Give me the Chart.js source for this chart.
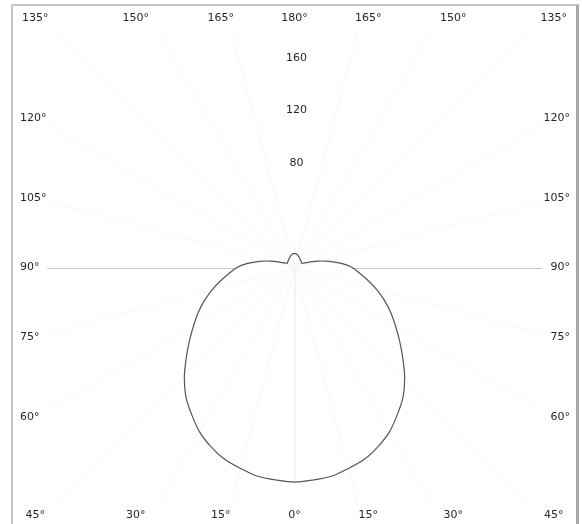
<!DOCTYPE html>
<html>
<head>
<meta charset="utf-8">
<script src="https://cdn.jsdelivr.net/npm/chart.js@4.4.1/dist/chart.umd.min.js"></script>
<style>
  html, body { margin: 0; padding: 0; background: #fff; overflow: hidden; }
  #wrap { position: relative; width: 582px; height: 524px; }
  #frame { position: absolute; left: 11px; top: 4px; width: 563px; height: 600px;
           border: 2px solid #c6c6c6; border-right: 3px solid #a9a9a9; }
  canvas { position: absolute; left: 0; top: 0; }
</style>
</head>
<body>
<div id="wrap"><div id="frame"></div><canvas id="polar"></canvas></div>
<script>
// Luminous intensity (cd) per gamma angle, symmetric plane
const angles = [0, 5, 10, 15, 20, 25, 30, 35, 40, 45, 50, 55, 60, 65, 70, 75, 80, 85, 90,
                95, 100, 105, 110, 115, 120, 125, 130, 135, 140, 145, 150, 155, 160, 165, 170, 175, 180];
const intensity = [164, 163, 162, 159, 156, 151, 145, 137, 129, 119, 108, 98, 89, 81, 73, 65, 57, 50, 44,
                   36, 27, 19, 12, 8, 6.5, 6.5, 6.8, 7, 7.2, 7.5, 8, 8.5, 9.2, 9.8, 10.3, 10.6, 10.7];

// Ring values and frame angle labels
const ringValues = [80, 120, 160];
const topAngles = [-135, -150, -165, 180, 165, 150, 135];
const sideAngles = [120, 105, 90, 75, 60];
const bottomAngles = [-45, -30, -15, 0, 15, 30, 45];

const sideReach = 198;   // cd, where side labels sit
const vertReach = 210;   // cd, where top/bottom labels sit

function toXY(deg, v) {
    const r = deg * Math.PI / 180;
    return { x: v * Math.sin(r), y: -v * Math.cos(r) };
}

const curve = [];
for (let i = angles.length - 1; i >= 0; i--) curve.push(toXY(-angles[i], intensity[i]));
for (let i = 1; i < angles.length; i++) curve.push(toXY(angles[i], intensity[i]));

const labelFont = '11px "DejaVu Sans", Verdana, sans-serif';

const polarFrame = {
    id: 'polarFrame',
    beforeDatasetsDraw(chart) {
        const { ctx, chartArea, scales: { x, y } } = chart;
        const cx = x.getPixelForValue(0), cy = y.getPixelForValue(0);
        ctx.save();
        ctx.beginPath();
        ctx.rect(chartArea.left, chartArea.top, chartArea.right - chartArea.left, chartArea.bottom - chartArea.top);
        ctx.clip();
        // very faint radial lines every 15 degrees
        ctx.strokeStyle = '#f7f7f7';
        ctx.lineWidth = 1;
        for (let a = 0; a < 360; a += 15) {
            if (a % 90 === 0) continue;
            const p = toXY(a, 400);
            ctx.beginPath();
            ctx.moveTo(cx, cy);
            ctx.lineTo(x.getPixelForValue(p.x), y.getPixelForValue(p.y));
            ctx.stroke();
        }
        // 0 deg line inside the curve
        ctx.strokeStyle = '#e8e8e8';
        ctx.beginPath();
        ctx.moveTo(cx + 0.5, cy);
        ctx.lineTo(cx + 0.5, y.getPixelForValue(-intensity[0]));
        ctx.stroke();
        // 90 deg line outside the curve
        const i90 = intensity[angles.indexOf(90)];
        ctx.strokeStyle = '#c9c9c9';
        ctx.beginPath();
        ctx.moveTo(chartArea.left, Math.round(cy) + 0.5);
        ctx.lineTo(x.getPixelForValue(-i90), Math.round(cy) + 0.5);
        ctx.moveTo(x.getPixelForValue(i90), Math.round(cy) + 0.5);
        ctx.lineTo(chartArea.right, Math.round(cy) + 0.5);
        ctx.stroke();
        ctx.restore();
    },
    afterDraw(chart) {
        const { ctx, chartArea, scales: { x, y } } = chart;
        ctx.save();
        ctx.font = labelFont;
        ctx.fillStyle = '#262626';
        ctx.textBaseline = 'middle';
        const clampX = v => Math.max(-sideReach, Math.min(sideReach, v));
        // top row
        ctx.textAlign = 'center';
        topAngles.forEach(a => {
            const off = (180 - Math.abs(a)) * Math.PI / 180;
            const xv = clampX(Math.sign(a) * vertReach * Math.tan(off));
            ctx.fillText(Math.abs(a) + '°', x.getPixelForValue(a === 180 ? 0 : xv), chartArea.top - 10);
        });
        // bottom row
        bottomAngles.forEach(a => {
            const off = Math.abs(a) * Math.PI / 180;
            const xv = clampX(Math.sign(a) * vertReach * Math.tan(off));
            ctx.fillText(Math.abs(a) + '°', x.getPixelForValue(xv), chartArea.bottom + 8);
        });
        // side columns
        sideAngles.forEach(a => {
            const yv = sideReach * Math.tan((a - 90) * Math.PI / 180);
            const py = y.getPixelForValue(yv);
            ctx.textAlign = 'left';
            ctx.fillText(a + '°', chartArea.left - 27, py);
            ctx.textAlign = 'right';
            ctx.fillText(a + '°', chartArea.right + 28, py);
        });
        // ring values on the vertical axis
        ctx.textAlign = 'center';
        ringValues.forEach(v => {
            ctx.fillText(String(v), x.getPixelForValue(0) + 2, y.getPixelForValue(v));
        });
        ctx.restore();
    }
};

new Chart(document.getElementById('polar').getContext('2d'), {
    type: 'scatter',
    data: {
        datasets: [{
            data: curve,
            showLine: true,
            borderColor: '#555555',
            borderWidth: 1.2,
            pointRadius: 0,
            tension: 0.3,
            fill: false
        }]
    },
    options: {
        responsive: true,
        maintainAspectRatio: false,
        animation: false,
        layout: { padding: { left: 47, right: 40, top: 28, bottom: 17 } },
        scales: {
            x: { type: 'linear', min: -189, max: 189, display: false },
            y: { type: 'linear', min: -183, max: 183, display: false }
        },
        plugins: {
            legend: { display: false },
            tooltip: { enabled: false }
        }
    },
    plugins: [polarFrame]
});
</script>
</body>
</html>
